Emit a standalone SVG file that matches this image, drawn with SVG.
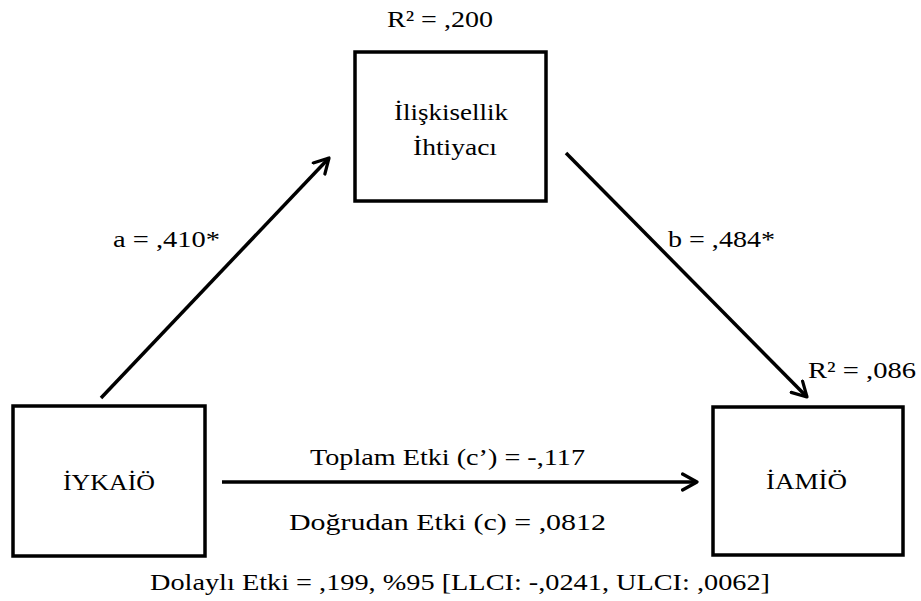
<svg xmlns="http://www.w3.org/2000/svg" width="921" height="601" viewBox="0 0 921 601">
  <style>
    .box { fill: #ffffff; stroke: #000000; stroke-width: 3.5; }
    .lbl { font-family: "Liberation Serif", "Times New Roman", serif; font-size: 23px; fill: #000000; }
    .mid { text-anchor: middle; }
    .edge { stroke: #000000; stroke-width: 3.5; fill: none; marker-end: url(#head); }
  </style>
  <defs>
    <marker id="head" viewBox="0 0 12 12" refX="10" refY="6" markerWidth="5.5" markerHeight="5.5" orient="auto" markerUnits="strokeWidth">
      <path d="M1,1 L10,6 L1,11" fill="none" stroke="#000000" stroke-width="2" stroke-linecap="round" stroke-linejoin="round"/>
    </marker>
  </defs>
  <rect width="921" height="601" fill="#ffffff"/>

  <g id="connectors">
    <line class="edge" x1="101" y1="398" x2="329" y2="158"/>
    <line class="edge" x1="566" y1="153" x2="807" y2="397"/>
    <line class="edge" x1="222" y1="482" x2="697" y2="482"/>
  </g>

  <g id="node-iliskisellik">
    <rect class="box" x="355" y="52" width="191" height="149"/>
    <text class="lbl" x="394" y="120" textLength="114" lengthAdjust="spacingAndGlyphs">İlişkisellik</text>
    <text class="lbl" x="413" y="155" textLength="84" lengthAdjust="spacingAndGlyphs">İhtiyacı</text>
  </g>

  <g id="node-iykaio">
    <rect class="box" x="13" y="406" width="192" height="150"/>
    <text class="lbl" x="63" y="490" textLength="92" lengthAdjust="spacingAndGlyphs">İYKAİÖ</text>
  </g>

  <g id="node-iamio">
    <rect class="box" x="713" y="407" width="190" height="148"/>
    <text class="lbl" x="766" y="489" textLength="81" lengthAdjust="spacingAndGlyphs">İAMİÖ</text>
  </g>

  <g id="labels">
    <text class="lbl" x="387" y="27" textLength="106" lengthAdjust="spacingAndGlyphs">R² = ,200</text>
    <text class="lbl" x="113" y="247" textLength="107" lengthAdjust="spacingAndGlyphs">a = ,410*</text>
    <text class="lbl" x="668" y="247" textLength="107" lengthAdjust="spacingAndGlyphs">b = ,484*</text>
    <text class="lbl" x="808" y="378" textLength="108" lengthAdjust="spacingAndGlyphs">R² = ,086</text>
    <text class="lbl" x="310" y="465" textLength="275" lengthAdjust="spacingAndGlyphs">Toplam Etki (c’) = -,117</text>
    <text class="lbl" x="289" y="530" textLength="317" lengthAdjust="spacingAndGlyphs">Doğrudan Etki (c) = ,0812</text>
    <text class="lbl" x="150" y="590" textLength="620" lengthAdjust="spacingAndGlyphs">Dolaylı  Etki = ,199, %95 [LLCI:  -,0241, ULCI:  ,0062]</text>
  </g>
</svg>
